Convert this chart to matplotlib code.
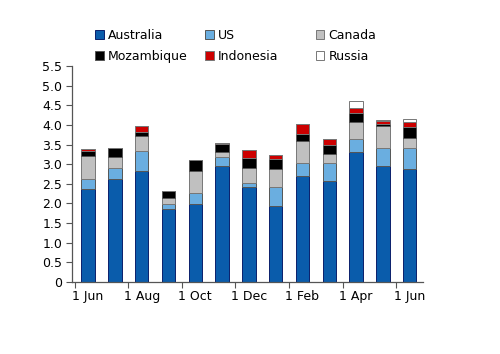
import numpy as np
import matplotlib
matplotlib.use('Agg')
from matplotlib import pyplot as plt

# monthly shipments, Jun to Jun
months = ['Jun', 'Jul', 'Aug', 'Sep', 'Oct', 'Nov', 'Dec',
          'Jan', 'Feb', 'Mar', 'Apr', 'May', 'Jun']
tick_labels = ['1 Jun', '1 Aug', '1 Oct', '1 Dec', '1 Feb', '1 Apr', '1 Jun']

australia = [2.36, 2.62, 2.83, 1.86, 1.98, 2.95, 2.43, 1.93, 2.71, 2.56, 3.31, 2.95, 2.87]
us = [0.27, 0.27, 0.51, 0.12, 0.28, 0.23, 0.08, 0.48, 0.31, 0.48, 0.32, 0.47, 0.55]
canada = [0.58, 0.29, 0.38, 0.15, 0.57, 0.14, 0.38, 0.47, 0.58, 0.22, 0.45, 0.55, 0.24]
mozambique = [0.13, 0.24, 0.11, 0.19, 0.28, 0.19, 0.27, 0.25, 0.16, 0.24, 0.23, 0.05, 0.28]
indonesia = [0.04, 0.0, 0.13, 0.0, 0.0, 0.04, 0.20, 0.10, 0.26, 0.13, 0.12, 0.08, 0.13]
russia = [0.0, 0.0, 0.0, 0.0, 0.0, 0.0, 0.0, 0.0, 0.0, 0.0, 0.17, 0.03, 0.07]

series = [
	('Australia', australia, '#0A5CAB', '#0B1F6B'),
	('US', us, '#6AAEE0', '#555555'),
	('Canada', canada, '#C0C0C0', '#777777'),
	('Mozambique', mozambique, '#000000', '#555555'),
	('Indonesia', indonesia, '#CC0000', '#777777'),
	('Russia', russia, '#FFFFFF', '#777777'),
]

plt.rc('font', family='DejaVu Sans', size=9)

fig = plt.figure(figsize=(5.0, 3.54), dpi=100)
ax = fig.add_axes([0.144, 0.2034, 0.702, 0.6102])

x = np.arange(len(months))
bottom = np.zeros(len(months))
handles = {}
for name, vals, color, edge in series:
	vals = np.array(vals)
	h = ax.bar(x, vals, width=0.5, bottom=bottom, color=color,
	           edgecolor=edge, linewidth=0.7, label=name)
	handles[name] = h
	bottom += vals

ax.set_ylim(0, 5.5)
ax.set_xlim(-0.6, 12.5)
ax.set_yticks(np.arange(0, 5.51, 0.5))
ax.set_yticklabels(['0'] + ['%.1f' % v for v in np.arange(0.5, 5.51, 0.5)])

# tick marks between bars, labels under every second bar
ax.set_xticks(np.arange(-0.5, 12, 2))
ax.set_xticklabels([])
ax.set_xticks(np.arange(0, 13, 2), minor=True)
ax.set_xticklabels(tick_labels, minor=True)
ax.tick_params(axis='x', which='major', length=4, direction='out', color='#555555')
ax.tick_params(axis='x', which='minor', length=0, pad=6)
ax.tick_params(axis='y', length=4, direction='out', color='#555555', pad=3)

for s in ['top', 'right']:
	ax.spines[s].set_visible(False)
for s in ['left', 'bottom']:
	ax.spines[s].set_color('#555555')
	ax.spines[s].set_linewidth(0.9)

# legend: three columns, two rows
cols = [('Australia', 'Mozambique'), ('US', 'Indonesia'), ('Canada', 'Russia')]
xpos = [0.19, 0.41, 0.631]
for (a, b), xp in zip(cols, xpos):
	leg = fig.legend([handles[a], handles[b]], [a, b], loc='upper left',
	                 bbox_to_anchor=(xp, 0.918), frameon=False,
	                 handlelength=0.7, handleheight=0.7, handletextpad=0.35,
	                 labelspacing=0.62, borderaxespad=0, borderpad=0)

fig.savefig('out.png', dpi=100)
